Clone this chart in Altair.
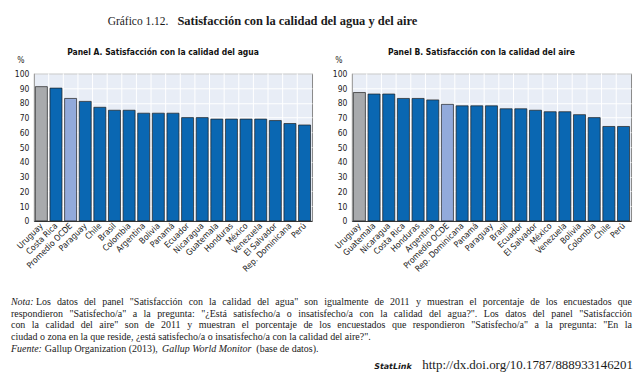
import altair as alt
import pandas as pd

# ---------------- data ----------------
countries_a = ["Uruguay", "Costa Rica", "Promedio OCDE", "Paraguay", "Chile", "Brasil",
               "Colombia", "Argentina", "Bolivia", "Panamá", "Ecuador", "Nicaragua",
               "Guatemala", "Honduras", "México", "Venezuela", "El Salvador",
               "Rep. Dominicana", "Perú"]
values_a = [91, 90, 83, 81, 77, 75, 75, 73, 73, 73, 70, 70, 69, 69, 69, 69, 68, 66, 65]

countries_b = ["Uruguay", "Guatemala", "Nicaragua", "Costa Rica", "Honduras", "Argentina",
               "Promedio OCDE", "Rep. Dominicana", "Panamá", "Paraguay", "Brasil", "Ecuador",
               "El Salvador", "México", "Venezuela", "Bolivia", "Colombia", "Chile", "Perú"]
values_b = [87, 86, 86, 83, 83, 82, 79, 78, 78, 78, 76, 76, 75, 74, 74, 72, 70, 64, 64]

y_ticks = list(range(0, 101, 10))

title_a = "Panel A.  Satisfacción con la calidad del agua"
title_b = "Panel B.  Satisfacción con la calidad del aire"

header_plain = "Gráfico 1.12."
header_bold = "Satisfacción con la calidad del agua y del aire"

note_lines = [
    "Los datos del panel \"Satisfacción con la calidad del agua\" son igualmente de 2011 y muestran el porcentaje de los encuestados que",
    "respondieron \"Satisfecho/a\" a la pregunta: \"¿Está satisfecho/a o insatisfecho/a con la calidad del agua?\". Los datos del panel \"Satisfacción",
    "con la calidad del aire\" son de 2011 y muestran el porcentaje de los encuestados que respondieron \"Satisfecho/a\" a la pregunta: \"En la",
    "ciudad o zona en la que reside, ¿está satisfecho/a o insatisfecho/a con la calidad del aire?\".",
]
source_parts = ["Fuente:", "Gallup Organization (2013),", "Gallup World Monitor", "(base de datos)."]
statlink_label = "StatLink"
statlink_url = "http://dx.doi.org/10.1787/888933146201"

# ---------------- styles ----------------
SANS = "Liberation Sans Narrow, Arial Narrow, DejaVu Sans Condensed, sans-serif"
SERIF = "Liberation Serif, DejaVu Serif, serif"
BLUE = "#0a67b2"
GREY = "#a8aaad"
LIGHT = "#92aadb"
PANEL_BG = "#e8edf6"
PLOT_TOP = 72
PLOT_H = 148
NOTE_SIZE = 10

# Times / Liberation Serif advance widths (1/1000 em) used to justify the note lines
_W = {" ": 250, "!": 333, "\"": 408, "(": 333, ")": 333, ",": 250, "-": 333, ".": 250,
      "/": 278, ":": 278, "?": 444, "¿": 444}
_W.update({d: 500 for d in "0123456789"})
_W.update(dict(zip("ABCDEFGHIJKLMNOPQRSTUVWXYZ",
                   [722, 667, 667, 722, 611, 556, 722, 722, 333, 389, 722, 611, 889, 722,
                    722, 556, 722, 667, 556, 611, 722, 722, 944, 722, 722, 611])))
_W.update(dict(zip("abcdefghijklmnopqrstuvwxyz",
                   [444, 500, 444, 500, 444, 333, 500, 500, 278, 278, 500, 278, 778, 500,
                    500, 500, 500, 333, 389, 278, 500, 500, 722, 500, 500, 444])))
_W.update({"á": 444, "é": 444, "í": 278, "ó": 500, "ú": 500, "ñ": 500, "É": 611})


def text_width(s, size):
    return sum(_W.get(ch, 500) for ch in s) * size / 1000.0


def group_of(c):
    if c == "Uruguay":
        return "Uruguay"
    if c == "Promedio OCDE":
        return "OCDE"
    return "Otros"


def txt(s, x, y, font=SERIF, size=NOTE_SIZE, weight="normal", style="normal",
        align="left", color="#1a1a1a"):
    return alt.Chart(pd.DataFrame({"t": [s]})).mark_text(
        align=align, baseline="alphabetic", font=font, fontSize=size,
        fontWeight=weight, fontStyle=style, color=color
    ).encode(text="t:N", x=alt.value(x), y=alt.value(y))


def justified(line, x0, x1, y):
    words = line.split(" ")
    natural = sum(text_width(w, NOTE_SIZE) for w in words)
    gap = (x1 - x0 - natural) / max(len(words) - 1, 1)
    out, x = [], x0
    for w in words:
        out.append(txt(w, round(x, 2), y))
        x += text_width(w, NOTE_SIZE) + gap
    return out


def panel(title, countries, values, w):
    df = pd.DataFrame({"pais": countries, "valor": values,
                       "grupo": [group_of(c) for c in countries]})
    xscale = alt.Scale(domain=countries, paddingInner=0.18, paddingOuter=0.1)
    xaxis = alt.Axis(labelAngle=-45, labelAlign="right", labelBaseline="middle",
                     labelPadding=3, labelFont=SANS, labelFontSize=8.5,
                     labelColor="#222", ticks=False, domainColor="#222",
                     domainWidth=1, grid=False, labelOverlap=False)
    base = alt.Chart(df)
    vgrid = base.mark_rule(color="white", strokeWidth=1, xOffset=-1.3).encode(
        x=alt.X("pais:N", scale=xscale, bandPosition=0, title=None, axis=xaxis)
    )
    bars = base.mark_bar(stroke="#1f1f1f", strokeWidth=0.7).encode(
        x=alt.X("pais:N", scale=xscale, title=None, axis=xaxis),
        y=alt.Y("valor:Q", scale=alt.Scale(domain=[0, 100], nice=False), title=None,
                axis=alt.Axis(values=y_ticks, grid=True, gridColor="white", gridWidth=1,
                              ticks=False, labelPadding=5, labelFont=SANS,
                              labelFontSize=8.5, labelColor="#222",
                              domainColor="#222", domainWidth=1)),
        color=alt.Color("grupo:N",
                        scale=alt.Scale(domain=["Uruguay", "OCDE", "Otros"],
                                        range=[GREY, LIGHT, BLUE]),
                        legend=None),
    )
    pct = txt("%", -13, -10, font=SANS, size=8.5, align="center", color="#222")
    return alt.layer(vgrid, bars, pct).properties(
        width=w, height=PLOT_H,
        title=alt.TitleParams(text=title, font=SANS, fontSize=8.5, fontWeight="bold",
                              color="#111", dx=-10, offset=0, anchor="middle"),
        view=alt.ViewBackground(fill=PANEL_BG, stroke="#8a8a8a", strokeWidth=1),
    )


# page-level texts live in the first (left margin) cell; y values are page
# coordinates shifted by the plot top
def py(v):
    return v - PLOT_TOP


page_bg = alt.Chart(pd.DataFrame({"v": [0]})).mark_rect(color="white").encode(
    x=alt.value(0), x2=alt.value(639), y=alt.value(py(0)), y2=alt.value(py(375))
)

page_layers = [
    page_bg,
    txt(header_plain, 107, py(23), size=11.5),
    txt(header_bold, 177, py(23), size=12.5, weight="bold"),
    txt("Nota:", 10, py(304.5), style="italic"),
]
ys = [304.5, 316, 327.5, 339.5]
page_layers += justified(note_lines[0], 35, 633, py(ys[0]))
page_layers += justified(note_lines[1], 10, 633, py(ys[1]))
page_layers += justified(note_lines[2], 10, 633, py(ys[2]))
page_layers.append(txt(note_lines[3], 10, py(ys[3])))

x = 10
src_x = []
for part in source_parts:
    src_x.append(x)
    x += text_width(part + " ", NOTE_SIZE) + 1.5
page_layers += [
    txt(source_parts[0], src_x[0], py(351.5), style="italic"),
    txt(source_parts[1], src_x[1], py(351.5)),
    txt(source_parts[2], src_x[2], py(351.5), style="italic"),
    txt(source_parts[3], src_x[3], py(351.5)),
    txt(statlink_label, 412, py(368.5), font="DejaVu Sans, sans-serif", size=8,
        weight="bold", style="italic", align="right"),
    txt(statlink_url, 634, py(368.5), size=13, align="right"),
]
margin = alt.layer(*page_layers).properties(width=33, height=PLOT_H)

gap = alt.Chart(pd.DataFrame({"v": [0]})).mark_point(opacity=0).encode(
    x=alt.value(0), y=alt.value(0)
).properties(width=40, height=PLOT_H)

chart = alt.hconcat(
    margin,
    panel(title_a, countries_a, values_a, 279),
    gap,
    panel(title_b, countries_b, values_b, 280),
    spacing=0, bounds="flush",
).properties(padding=0, background="white").configure_view(stroke="transparent")

chart.save("out.html", embed_options={"renderer": "svg", "actions": False})
